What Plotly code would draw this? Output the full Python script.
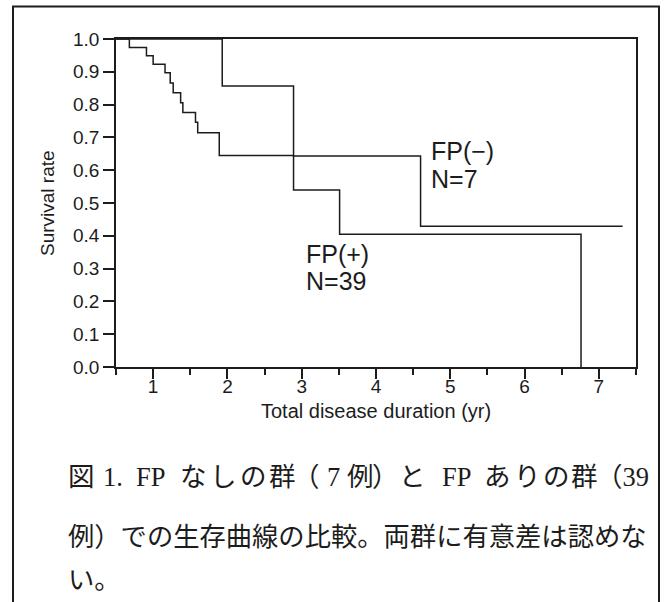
import plotly.graph_objects as go

# Kaplan-Meier step data (time in years, survival fraction)
fp_pos_time = [0.0, 0.68, 0.91, 1.0, 1.16, 1.23, 1.27, 1.37, 1.40, 1.57, 1.60, 1.89, 2.89, 3.51, 6.76]
fp_pos_surv = [1.0, 0.974, 0.949, 0.923, 0.897, 0.866, 0.836, 0.806, 0.776, 0.746, 0.714, 0.645, 0.540, 0.405, 0.0]

fp_neg_time = [0.0, 1.93, 2.89, 4.60, 7.32]
fp_neg_surv = [1.0, 0.857, 0.643, 0.429, 0.429]

x_ticks = [1, 2, 3, 4, 5, 6, 7]
y_ticks = [0.0, 0.1, 0.2, 0.3, 0.4, 0.5, 0.6, 0.7, 0.8, 0.9, 1.0]

group_labels = [("FP(−)", "N=7"), ("FP(+)", "N=39")]

# first caption line is fully justified: each piece with its centre (px)
caption_line1 = [
    ("図", 81), ("1.", 112.5), ("FP", 150.5),
    ("な", 193.8), ("し", 223.5), ("の", 253.2), ("群", 282.9),
    ("（", 306.5), ("7", 333), ("例", 360.5), ("）", 385.7), ("と", 412.5),
    ("FP", 456),
    ("あ", 497.8), ("り", 527.3), ("の", 556.3), ("群", 584.8),
]
caption_line1_end = "（39"   # right-aligned at the text margin
caption_line2 = "例）での生存曲線の比較。両群に有意差は認めな"
caption_line3 = "い。"

INK = "#1c1c1c"
SANS = "Liberation Sans, Arial, Helvetica, sans-serif"
CAPTION_FONT = "Liberation Serif, Noto Sans CJK JP, serif"

W, H = 665, 602
L, R, T, B = 116, 29, 39, 235
PW, PH = W - L - R, H - T - B


def px_to_paper_x(px):
    return (px - L) / PW


def px_to_paper_y(py):
    return (H - B - py) / PH


fig = go.Figure()
fig.add_trace(go.Scatter(
    x=fp_pos_time, y=fp_pos_surv, mode="lines", line_shape="hv",
    line=dict(color=INK, width=1.5), name="FP(+)", showlegend=False,
))
fig.add_trace(go.Scatter(
    x=fp_neg_time, y=fp_neg_surv, mode="lines", line_shape="hv",
    line=dict(color=INK, width=1.5), name="FP(-)", showlegend=False,
))

annotations = []
# curve labels
label_pos = [(4.75, 0.660, 0.573), (3.07, 0.344, 0.261)]
for (l1, l2), (lx, ly1, ly2) in zip(group_labels, label_pos):
    for txt, yy in ((l1, ly1), (l2, ly2)):
        annotations.append(dict(
            x=lx, y=yy, xref="x", yref="y", text=txt, showarrow=False,
            xanchor="left", yanchor="middle", xshift=-3,
            font=dict(family=SANS, size=25, color=INK),
        ))

# axis titles
annotations.append(dict(
    x=px_to_paper_x(47), y=0.5, xref="paper", yref="paper",
    text="Survival rate", textangle=-90, showarrow=False,
    xanchor="center", yanchor="middle",
    font=dict(family=SANS, size=19, color=INK),
))
annotations.append(dict(
    x=0.5, y=px_to_paper_y(411), xref="paper", yref="paper",
    text="Total disease duration (yr)", showarrow=False,
    xanchor="center", yanchor="middle",
    font=dict(family=SANS, size=20, color=INK),
))

# caption
for txt, cx in caption_line1:
    annotations.append(dict(
        x=px_to_paper_x(cx), y=px_to_paper_y(477), xref="paper", yref="paper",
        text=txt, showarrow=False, xanchor="center", yanchor="middle",
        font=dict(family=CAPTION_FONT, size=26.5, color=INK),
    ))
annotations.append(dict(
    x=px_to_paper_x(651), y=px_to_paper_y(477), xref="paper", yref="paper",
    text=caption_line1_end, showarrow=False, xanchor="right", yanchor="middle",
    font=dict(family=CAPTION_FONT, size=26.5, color=INK),
))
for txt, cy in ((caption_line2, 537), (caption_line3, 580)):
    annotations.append(dict(
        x=px_to_paper_x(66), y=px_to_paper_y(cy), xref="paper", yref="paper",
        text=txt, showarrow=False, xanchor="left", yanchor="middle",
        font=dict(family=CAPTION_FONT, size=26.3, color=INK),
    ))

# outer frame around figure and caption
shapes = [dict(
    type="rect", xref="paper", yref="paper",
    x0=px_to_paper_x(13), x1=px_to_paper_x(659),
    y0=px_to_paper_y(640), y1=px_to_paper_y(6.5),
    line=dict(color=INK, width=2), fillcolor="rgba(0,0,0,0)",
)]

fig.update_layout(
    width=W, height=H,
    margin=dict(l=L, r=R, t=T, b=B),
    paper_bgcolor="white", plot_bgcolor="white",
    annotations=annotations, shapes=shapes,
    xaxis=dict(
        range=[0.5, 7.5], tickvals=x_ticks, ticktext=[str(v) for v in x_ticks],
        ticks="outside", ticklen=10, tickwidth=1.5, tickcolor=INK,
        ticklabelstandoff=-9,
        showline=True, linecolor=INK, linewidth=1.5, mirror=True,
        showgrid=False, zeroline=False,
        tickfont=dict(family=SANS, size=19, color=INK),
        minor=dict(dtick=0.5, tick0=0.5, ticks="outside", ticklen=6,
                   tickwidth=1.5, tickcolor=INK, showgrid=False),
    ),
    yaxis=dict(
        range=[0, 1.0], tickvals=y_ticks, ticktext=[f"{v:.1f}" for v in y_ticks],
        ticks="outside", ticklen=11, tickwidth=1.5, tickcolor=INK,
        showline=True, linecolor=INK, linewidth=1.5, mirror=True,
        showgrid=False, zeroline=False,
        tickfont=dict(family=SANS, size=19, color=INK),
    ),
)

fig.write_html("out.html")
